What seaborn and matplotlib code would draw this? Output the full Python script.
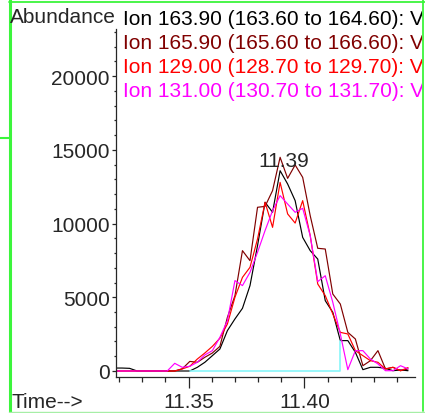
"""
Extracted ion chromatogram around 11.39 min: four SIM traces plus the
integration baseline, styled like the instrument printout.
"""

import matplotlib
matplotlib.use("Agg")
import matplotlib.pyplot as plt
from matplotlib.lines import Line2D
from matplotlib.ticker import MultipleLocator
import pandas as pd
import seaborn as sns

# retention time of each scan (min)
times = [
    11.31807, 11.32131, 11.32456, 11.32781, 11.33105, 11.33430, 11.33755,
    11.34080, 11.34404, 11.34729, 11.35054, 11.35378, 11.35703, 11.36028,
    11.36352, 11.36677, 11.37002, 11.37326, 11.37651, 11.37976, 11.38301,
    11.38625, 11.38950, 11.39275, 11.39599, 11.39924, 11.40249, 11.40574,
    11.40898, 11.41223, 11.41548, 11.41872, 11.42197, 11.42522, 11.42846,
    11.43171, 11.43496, 11.43820, 11.44145, 11.44470,
]

ion_163 = [
    200, 200, 180, 0, 0, 0, 0, 0, 0, 0, 0, 250, 590, 1040, 1490, 2740,
    3530, 4250, 5790, 8500, 11440, 10760, 13580, 12680, 11550, 9060, 8160,
    7590, 4770, 3980, 2060, 2060, 1270, 90, 250, 250, 180, 20, 70, 20,
]
ion_165 = [
    0, 0, 0, 0, 0, 0, 0, 0, 0, 150, 650, 590, 930, 1220, 1670, 3640,
    5110, 8160, 7480, 11100, 11160, 12230, 14490, 13060, 13970, 13130, 10530,
    8320, 8270, 5220, 4540, 2620, 2170, 360, 700, 1380, 140, 250, 20, 140,
]
ion_129 = [
    0, 0, 0, 0, 0, 0, 0, 0, 0, 140, 320, 810, 1220, 1670, 2220, 3190,
    5000, 6350, 7030, 8950, 11440, 9740, 12790, 10650, 10030, 11550, 9180,
    5900, 5110, 3870, 2620, 2510, 1380, 1040, 700, 590, 140, 250, 20, 230,
]
ion_131 = [
    0, 0, 0, 0, 0, 0, 0, 0, 520, 250, 320, 590, 1090, 1380, 2280, 3410,
    6130, 5790, 6690, 8050, 9520, 10870, 11890, 11320, 10760, 11030, 9180,
    6060, 6460, 4660, 2510, 90, 1380, 1380, 810, 480, 20, 20, 360, 140,
]

ion_labels = [
    "Ion 163.90 (163.60 to 164.60): V",
    "Ion 165.90 (165.60 to 166.60): V",
    "Ion 129.00 (128.70 to 129.70): V",
    "Ion 131.00 (130.70 to 131.70): V",
]
ion_colors = ["#000000", "#800000", "#ff0000", "#ff00ff"]

# integration of the 163.90 trace: start / end scan index
base_start = 10
base_end = 30
peak_rt = 11.39
peak_label_y = 13900

xticks = [11.35, 11.40]
yticks = [0, 5000, 10000, 15000, 20000]

W, H = 425, 414
FS = 15

sns.set_style("ticks")
plt.rcParams["font.family"] = ["Liberation Sans", "DejaVu Sans"]

df = pd.DataFrame({
    "time": times * 4,
    "abundance": ion_163 + ion_165 + ion_129 + ion_131,
    "ion": [lab for lab in ion_labels for _ in times],
})

fig = plt.figure(figsize=(W / 100, H / 100), dpi=100)
ax = fig.add_axes([116 / W, 1 - 378 / H, 299 / W, 348 / H])

sns.lineplot(
    data=df, x="time", y="abundance", hue="ion", hue_order=ion_labels,
    palette=dict(zip(ion_labels, ion_colors)), estimator=None, sort=False,
    legend=False, linewidth=0.85, ax=ax,
)
ax.plot(
    [times[base_start], times[base_end], times[base_end]],
    [0, 0, ion_163[base_end]],
    color="#88f6fa", linewidth=1.2,
)
ax.annotate(f"{peak_rt:.2f}", xy=(peak_rt, peak_label_y), xytext=(2, 0),
            textcoords="offset points", ha="center", va="baseline", fontsize=FS)

ax.set_xlim(11.3187, 11.4477)
ax.set_ylim(-407, 23188)
sns.despine(ax=ax)
for side in ("left", "bottom"):
    ax.spines[side].set_linewidth(0.9)
ax.set_xlabel("")
ax.set_ylabel("")

ax.set_xticks(xticks, labels=[f"{x:.2f}" for x in xticks])
ax.xaxis.set_minor_locator(MultipleLocator(0.01))
ax.set_yticks(yticks, labels=[str(y) for y in yticks])
ax.yaxis.set_minor_locator(MultipleLocator(1000))
ax.tick_params(axis="x", which="major", length=8, width=0.9, pad=2.5, labelsize=FS)
ax.tick_params(axis="x", which="minor", length=3.8, width=0.9)
ax.tick_params(axis="y", which="major", length=3, width=0.9, pad=1.5, labelsize=FS)
ax.tick_params(axis="y", which="minor", length=1.2, width=0.9)

# text layer clipped at the right frame line
ax_txt = fig.add_axes([0, 0, 422 / W, 1])
ax_txt.set_axis_off()
fig.text(10 / W, 1 - 22.7 / H, "Abundance", ha="left", va="baseline", fontsize=FS)
for i, (lab, col) in enumerate(zip(ion_labels, ion_colors)):
    ax_txt.text(123 / W, 1 - (25 + 23.9 * i) / H, lab, color=col, fontsize=FS,
                ha="left", va="baseline", transform=fig.transFigure, clip_on=True)
fig.text(11.5 / W, 1 - 407.7 / H, "Time-->", ha="left", va="baseline", fontsize=FS)

# green window frame
green = "#3cf53c"
frame = [
    ([9.5 / W, 9.5 / W], [0, 1], 2.2, green),
    ([9 / W, 1], [1 - 3 / H, 1 - 3 / H], 1.3, green),
    ([422.8 / W, 422.8 / W], [1 - 412 / H, 1], 1.3, green),
    ([0, 9 / W], [1 - 139 / H, 1 - 139 / H], 1.5, green),
    ([9 / W, 1], [1 - 412.5 / H, 1 - 412.5 / H], 1.0, "#a6eea6"),
]
for xs, ys, lw, col in frame:
    fig.add_artist(Line2D(xs, ys, transform=fig.transFigure, color=col, linewidth=lw))

fig.savefig("out.png", dpi=100)
